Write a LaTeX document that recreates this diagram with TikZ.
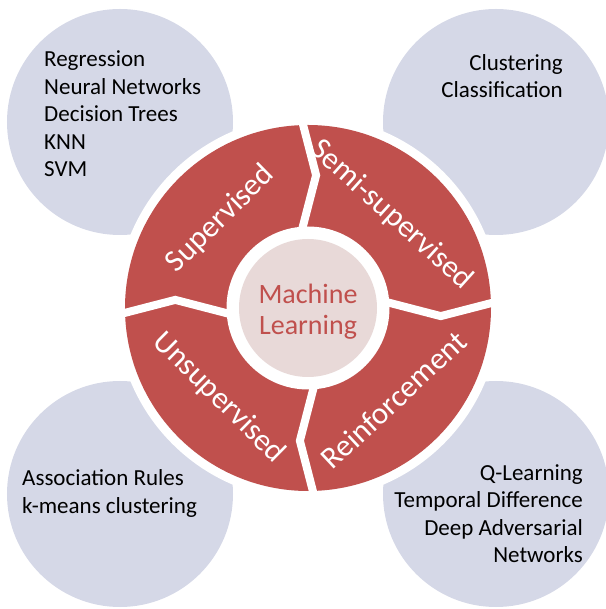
\documentclass[tikz,border=0pt]{standalone}
\usepackage{fontspec}
\setmainfont{Carlito}
\definecolor{mlred}{RGB}{192,80,77}
\definecolor{mlpink}{RGB}{232,217,216}
\definecolor{mlgray}{RGB}{213,216,231}
\begin{document}
\begin{tikzpicture}[x=1pt,y=1pt,
  cornerdisk/.style={circle, fill=mlgray, minimum size=226pt, inner sep=0pt},
  cornertext/.style={font=\fontsize{23}{27.5}\selectfont, inner sep=0pt, text=black},
  ringtext/.style={font=\fontsize{31}{37}\selectfont, text=white, inner sep=0pt},
  gapline/.style={draw=white, line width=8pt, line join=miter},
  ]
\useasboundingbox (-308,-301) rectangle (297,308);
% corner disks
\node[cornerdisk] (tl) at (-188,186) {};
\node[cornerdisk] (tr) at (188,186) {};
\node[cornerdisk] (bl) at (-188,-186) {};
\node[cornerdisk] (br) at (188,-186) {};
% ring
\fill[white] (0,0) circle (192);
\fill[mlred] (0,0) circle (183);
\foreach \t in {0,90,180,270}{
  \draw[gapline] (\t+2:190) -- (\t-3.5:133) -- (\t+4.5:78);
}
\fill[white] (0,0) circle (81.5);
\node[circle, fill=mlpink, minimum size=138pt, inner sep=0pt] (hub) at (0,0) {};
\node[font=\fontsize{28}{31}\selectfont, text=mlred, align=center, inner sep=0pt] (hubtext) at (0,-4) {Machine\\Learning};
% ring labels
\node[ringtext, rotate=44.5] (sup) at (134.5:125) {Supervised};
\node[ringtext, rotate=-42] (semi) at (48:125) {Semi-supervised};
\node[ringtext, rotate=43] (rein) at (-47:125.5) {Reinforcement};
\node[ringtext, rotate=-44.7] (unsup) at (225.3:126.5) {Unsupervised};
% corner texts (base anchor = last line)
\node[cornertext, align=left, anchor=base west] (tltext) at (-264,131) {Regression\\Neural Networks\\Decision Trees\\KNN\\SVM};
\node[cornertext, align=right, anchor=base east] (trtext) at (255,210) {Clustering\\Classification};
\node[cornertext, align=left, anchor=base west] (bltext) at (-286,-205) {Association Rules\\k-means clustering};
\node[cornertext, align=right, anchor=base east] (brtext) at (275,-254.5) {Q-Learning\\Temporal Difference\\Deep Adversarial\\Networks};
\end{tikzpicture}
\end{document}
